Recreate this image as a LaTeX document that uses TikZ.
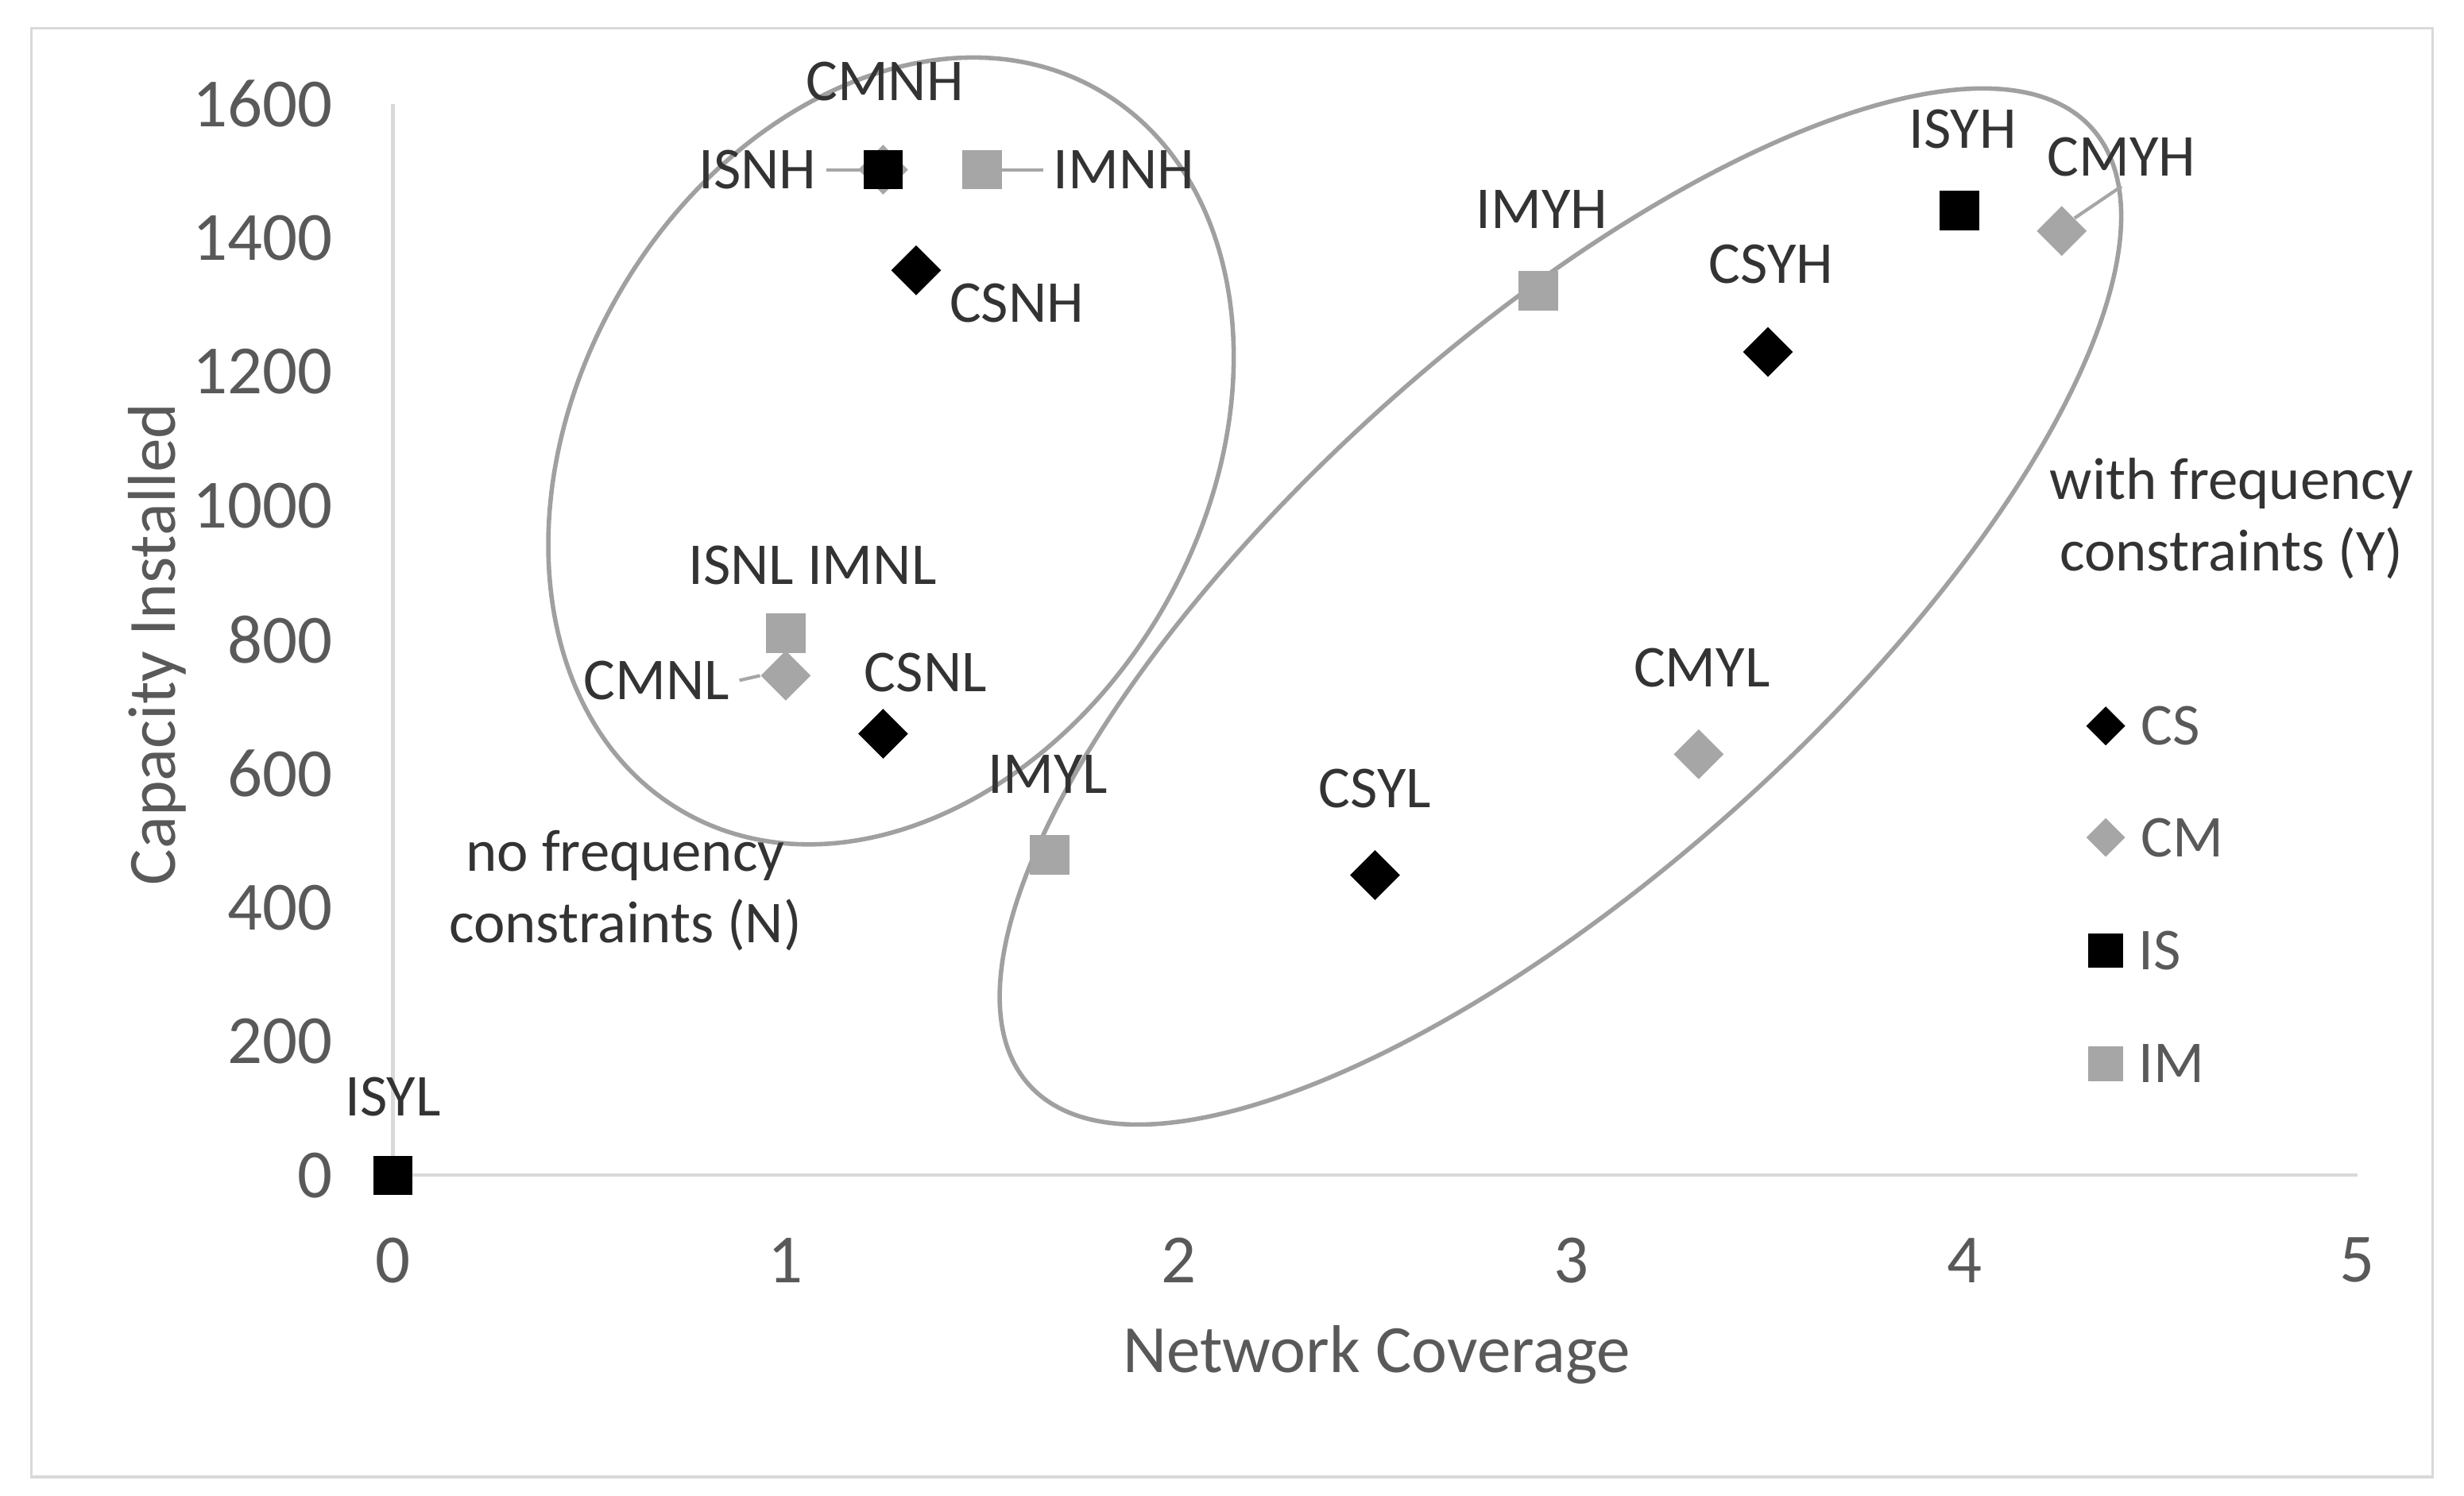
\documentclass[tikz,border=0pt]{standalone}
\usepackage{fontspec}
\setmainfont{Carlito}
\usetikzlibrary{positioning, shapes.geometric}
\definecolor{axisgrey}{HTML}{D9D9D9}
\definecolor{tickgrey}{HTML}{595959}
\definecolor{markgrey}{HTML}{A6A6A6}
\definecolor{ringgrey}{HTML}{A0A0A0}

\begin{document}
\begin{tikzpicture}[x=0.2mm, y=-0.2mm,
    every node/.style={font=\fontsize{21.5}{26}\selectfont},
    sqB/.style={rectangle, fill=black, minimum size=5mm, inner sep=0pt},
    sqG/.style={rectangle, fill=markgrey, minimum size=5mm, inner sep=0pt},
    dmB/.style={diamond, fill=black, minimum size=6.4mm, inner sep=0pt},
    dmG/.style={diamond, fill=markgrey, minimum size=6.4mm, inner sep=0pt},
    lbl/.style={text=black!80},
    tick/.style={text=tickgrey},
    ticknum/.style={text=tickgrey, font=\fontsize{25}{30}\selectfont},
    title/.style={text=tickgrey, font=\fontsize{24.5}{30}\selectfont},
    axis/.style={draw=axisgrey, line width=1.2pt},
    ring/.style={draw=ringgrey, line width=1.6pt},
    leader/.style={draw=markgrey, line width=1.2pt}
    ]

    % Rahmen
    \draw[draw=axisgrey, line width=1pt] (20,18) rectangle (1548,940);
    \useasboundingbox (0,0) rectangle (1568,952);

    % Achsen
    \coordinate (origin) at (250,748);
    \coordinate (ytop) at (250,66);
    \coordinate (xend) at (1500,748);
    \draw[axis] (ytop) -- (origin) -- (xend);
    \foreach \v [count=\i from 0] in {0,200,400,600,800,1000,1200,1400,1600}
        \node[ticknum, anchor=east] (yt\i) at (218,748-\i*85.25) {\v};
    \foreach \v in {0,...,5}
        \node[ticknum] (xt\v) at (250+\v*250,802) {\v};
    \node[title] (xtitle) at (876,862) {Network Coverage};
    \node[title, rotate=90] (ytitle) at (100,410) {Capacity Installed};

    % Gruppen
    \draw[ring, rotate around={60:(567,287)}] (567,287) ellipse (265 and 200);
    \draw[ring, rotate around={42:(993,386)}] (993,386) ellipse (455 and 170);
    \node[lbl, align=center] (noFreq) at (398,567) {no frequency\\constraints (N)};
    \node[lbl, align=center] (withFreq) at (1420,330) {with frequency\\constraints (Y)};

    % Punkte
    \node[dmG] (cmnh) at (562,108) {};
    \node[sqB] (isnh) at (562,108) {};
    \node[sqG] (imnh) at (625,108) {};
    \node[dmB] (csnh) at (583,172) {};
    \node[sqB] (isnl) at (500,403) {};
    \node[sqG] (imnl) at (500,403) {};
    \node[dmG] (cmnl) at (500,430) {};
    \node[dmB] (csnl) at (562,467) {};
    \node[sqG] (imyl) at (668,544) {};
    \node[dmB] (csyl) at (875,557) {};
    \node[dmG] (cmyl) at (1081,480) {};
    \node[sqG] (imyh) at (979,185) {};
    \node[dmB] (csyh) at (1125,224) {};
    \node[sqB] (isyh) at (1247,134) {};
    \node[dmG] (cmyh) at (1312,147) {};
    \node[sqB] (isyl) at (250,748) {};

    % Beschriftungen
    \node[lbl] (cmnhL) at (563,52) {CMNH};
    \node[lbl] (isnhL) at (482,108) {ISNH};
    \node[lbl] (imnhL) at (715,108) {IMNH};
    \node[lbl] (csnhL) at (647,193) {CSNH};
    \node[lbl] (nlL) at (517,360) {ISNL IMNL};
    \node[lbl] (cmnlL) at (418,433) {CMNL};
    \node[lbl] (csnlL) at (589,428) {CSNL};
    \node[lbl] (imylL) at (667,493) {IMYL};
    \node[lbl] (csylL) at (875,502) {CSYL};
    \node[lbl] (cmylL) at (1083,425) {CMYL};
    \node[lbl] (imyhL) at (981,133) {IMYH};
    \node[lbl] (csyhL) at (1127,168) {CSYH};
    \node[lbl] (isyhL) at (1249,82) {ISYH};
    \node[lbl] (cmyhL) at (1350,100) {CMYH};
    \node[lbl] (isylL) at (250,698) {ISYL};
    \draw[leader] (isnhL.east) -- (isnh.west);
    \draw[leader] (imnhL.west) -- (imnh.east);
    \draw[leader] (cmnlL.east) -- (cmnl.west);
    \draw[leader] (cmyhL.south) -- (cmyh.north east);

    % Legende
    \node[dmB, minimum size=5mm] (lgCS) at (1340,462) {};
    \node[dmG, minimum size=5mm] (lgCM) at (1340,533) {};
    \node[sqB, minimum size=4.4mm] (lgIS) at (1340,605) {};
    \node[sqG, minimum size=4.4mm] (lgIM) at (1340,677) {};
    \node[tick, right=2pt of lgCS] {CS};
    \node[tick, right=2pt of lgCM] {CM};
    \node[tick, right=2pt of lgIS] {IS};
    \node[tick, right=2pt of lgIM] {IM};
\end{tikzpicture}
\end{document}
